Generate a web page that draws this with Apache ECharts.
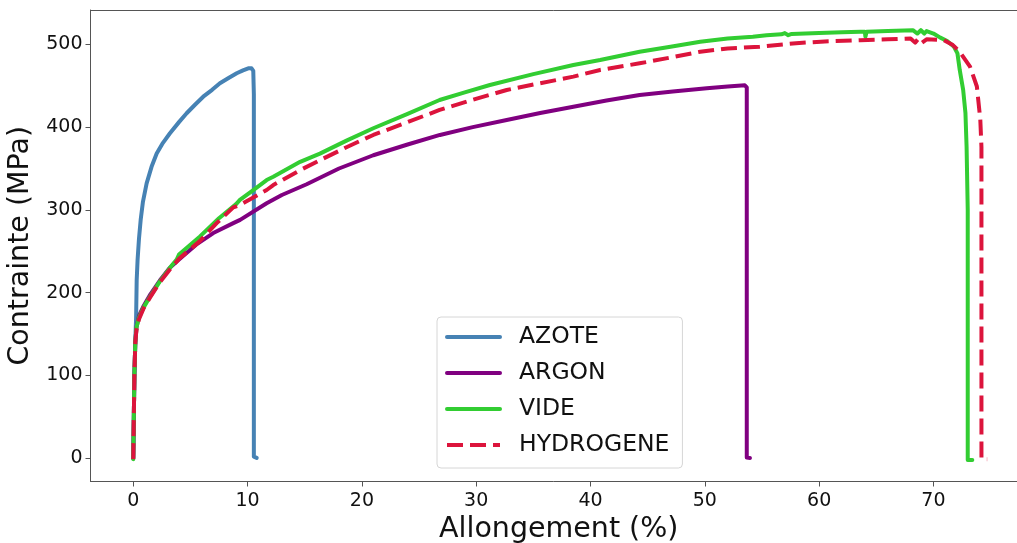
<!DOCTYPE html>
<html>
<head>
<meta charset="utf-8">
<script src="https://cdn.jsdelivr.net/npm/echarts@6/dist/echarts.min.js"></script>
<style>
  html, body { margin: 0; padding: 0; background: #fff; }
  #chart { width: 1017px; height: 543px; }
</style>
</head>
<body>
<div id="chart"></div>
<script>
// Courbes de traction : [allongement (%), contrainte (MPa)]
const seriesNames = ['AZOTE', 'ARGON', 'VIDE', 'HYDROGENE'];
const seriesColors = ['#4682B4', '#800080', '#32CD32', '#DC143C'];

const xTicks = [0, 10, 20, 30, 40, 50, 60, 70];
const yTicks = [0, 100, 200, 300, 400, 500];

const azote = [
  [0, 0], [0.1, 100], [0.2, 150], [0.25, 170], [0.3, 215], [0.38, 240],
  [0.5, 265], [0.65, 288], [0.85, 310], [1.17, 332], [1.6, 352], [2.05, 368],
  [2.6, 381], [3.21, 392.5], [4.0, 406], [4.67, 416.7], [5.4, 427], [6.12, 436.7],
  [6.9, 445], [7.58, 453], [8.3, 459], [9.05, 465], [9.6, 468.5], [10.06, 471],
  [10.35, 471], [10.5, 468], [10.55, 440], [10.55, 200], [10.55, 2], [10.6, 0.5],
  [10.8, 0.5]
];

const argon = [
  [0, 0], [0.05, 50], [0.1, 100], [0.18, 140], [0.28, 158], [0.5, 172],
  [0.87, 183], [1.5, 198], [2.34, 215], [3.2, 230], [4.0, 240], [5.5, 258],
  [7.0, 272], [8.75, 284], [9.35, 288], [11.67, 308], [13.0, 318], [15.17, 331],
  [18.0, 350], [21.0, 366], [24.0, 379], [26.83, 390.5], [29.7, 400], [32.67, 408.6],
  [35.6, 417], [38.5, 424.6], [41.4, 432], [44.3, 438.8], [47.2, 443], [50.17, 446.9],
  [52.0, 449], [53.5, 450.5], [53.67, 448], [53.67, 300], [53.67, 1], [53.95, 0.5]
];

const vide = [
  [0, -1], [0.05, 50], [0.1, 100], [0.18, 140], [0.28, 158], [0.5, 170],
  [0.9, 182], [1.46, 195], [2.3, 213], [3.2, 230], [3.8, 240], [4.0, 246],
  [4.09, 248], [5.84, 268], [7.5, 290], [9.0, 307], [9.33, 312], [10.5, 324],
  [11.67, 336], [12.25, 340], [14.6, 358], [16.33, 368], [18.7, 384], [21.0, 398.6],
  [24.0, 416], [26.8, 432.7], [29.0, 442], [31.2, 450.8], [35.0, 464], [38.5, 475],
  [40.84, 481], [44.3, 491], [47.0, 497], [49.6, 503], [52.0, 507], [54.2, 509],
  [55.4, 511], [56.7, 512], [57.0, 513.5], [57.3, 511], [57.6, 512.5], [60.0, 513.5],
  [62.0, 514.5], [63.6, 515], [64.0, 515], [64.05, 509], [64.15, 515], [66.0, 516],
  [68.2, 517], [68.6, 513], [68.9, 517], [69.2, 513], [69.4, 516], [70.0, 513],
  [70.6, 508], [71.2, 504], [71.8, 497], [72.1, 489], [72.3, 469], [72.6, 445],
  [72.8, 417], [72.9, 376], [73.0, 300], [73.0, 100], [73.0, -2], [73.4, -2]
];

const hydrogene = [
  [0, -1], [0.05, 50], [0.1, 100], [0.18, 140], [0.28, 155], [0.5, 168],
  [0.9, 181], [1.46, 194], [2.3, 212], [3.2, 228], [4.0, 241], [5.8, 262],
  [7.3, 284], [8.75, 303], [9.35, 306], [11.67, 324], [12.25, 330], [14.6, 348],
  [16.33, 360], [18.7, 376], [21.0, 390.5], [24.0, 406], [26.8, 420.7], [29.7, 433],
  [32.67, 444.8], [35.6, 453], [38.5, 460.9], [40.84, 469], [44.3, 477], [47.0, 484],
  [49.6, 491], [52.0, 495], [54.8, 497], [57.7, 501], [60.5, 503.5], [63.6, 505],
  [66.0, 506], [68.0, 507], [68.4, 502], [68.7, 507], [69.0, 502], [69.4, 506],
  [70.9, 505], [71.7, 499], [72.3, 491], [73.2, 473], [73.8, 449], [74.1, 409],
  [74.2, 376], [74.2, 200], [74.2, -1], [74.7, -1]
];

const curves = [azote, argon, vide, hydrogene];

const axisColor = '#555';
const font = 'DejaVu Sans';

const chart = echarts.init(document.getElementById('chart'), null, { renderer: 'canvas' });

chart.setOption({
  animation: false,
  backgroundColor: '#fff',
  grid: { left: 90.5, right: 0, top: 10, bottom: 61.5, outerBoundsMode: 'none', containLabel: false },
  legend: {
    orient: 'vertical',
    left: 437,
    top: 317,
    padding: [8, 13, 11, 8],
    itemWidth: 53,
    itemHeight: 14,
    itemGap: 12,
    backgroundColor: '#fff',
    borderColor: '#d6d6d6',
    borderWidth: 1,
    borderRadius: 4,
    itemStyle: { opacity: 0 },
    lineStyle: { width: 4 },
    textStyle: { fontFamily: font, fontSize: 23.5, color: '#111', lineHeight: 24, padding: [0, 0, 0, 14] },
    data: seriesNames
  },
  xAxis: [{
    type: 'value',
    min: -3.74,
    max: 77.31,
    name: 'Allongement (%)',
    nameLocation: 'middle',
    nameGap: 30,
    nameTextStyle: { fontFamily: font, fontSize: 28.5, color: '#111', padding: [0, 0, 0, 10] },
    axisLine: { show: true, onZero: false, lineStyle: { color: axisColor, width: 1 } },
    axisTick: { show: true, length: 5, lineStyle: { color: axisColor }, customValues: xTicks },
    axisLabel: { fontFamily: font, fontSize: 19, color: '#111', margin: 10, customValues: xTicks },
    splitLine: { show: false }
  }, {
    type: 'value',
    position: 'top',
    min: -3.74,
    max: 77.31,
    axisLine: { show: true, onZero: false, lineStyle: { color: axisColor, width: 1 } },
    axisTick: { show: false },
    axisLabel: { show: false },
    splitLine: { show: false }
  }],
  yAxis: {
    type: 'value',
    min: -28,
    max: 541.4,
    name: 'Contrainte (MPa)',
    nameLocation: 'middle',
    nameGap: 50,
    nameTextStyle: { fontFamily: font, fontSize: 28.5, color: '#111' },
    axisLine: { show: true, onZero: false, lineStyle: { color: axisColor, width: 1 } },
    axisTick: { show: true, length: 5, lineStyle: { color: axisColor }, customValues: yTicks },
    axisLabel: { fontFamily: font, fontSize: 19, color: '#111', margin: 8, customValues: yTicks },
    splitLine: { show: false }
  },
  series: curves.map((data, i) => ({
    name: seriesNames[i],
    type: 'line',
    xAxisIndex: 0,
    data: data,
    symbol: 'none',
    showSymbol: false,
    smooth: false,
    clip: true,
    color: seriesColors[i],
    lineStyle: {
      color: seriesColors[i],
      width: 4,
      type: i === 3 ? [16, 7] : 'solid',
      cap: i === 3 ? 'butt' : 'round',
      join: 'round'
    }
  }))
});
</script>
</body>
</html>
